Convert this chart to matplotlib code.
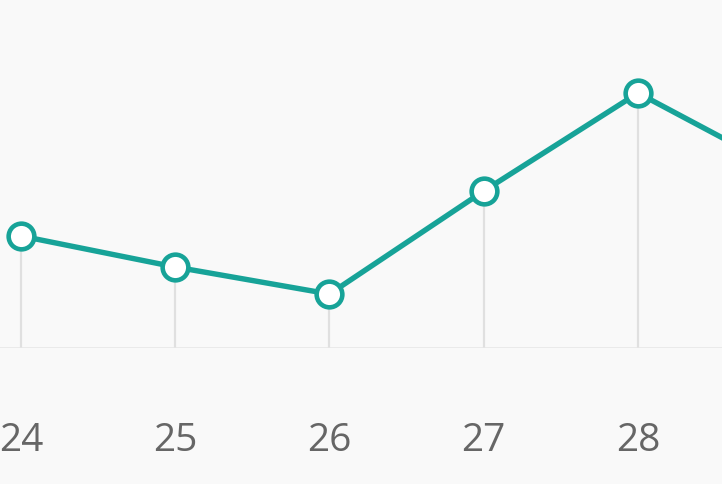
import matplotlib.pyplot as plt

days = [24, 25, 26, 27, 28, 29]
values = [112, 81, 54, 157, 255, 173]
tick_labels = ["24", "25", "26", "27", "28", "29"]

teal = "#17a398"
bg = "#f9f9f9"

fig = plt.figure(figsize=(7.22, 4.84), dpi=100, facecolor=bg)
ax = fig.add_axes([0, 136 / 484, 1, 348 / 484], facecolor=bg)

# drop lines from each point to the baseline
ax.vlines(days, 0, values, color="#e0e0e0", lw=1.6, zorder=1)
ax.axhline(0, color="#e6e6e6", lw=1.8, zorder=1)

ax.plot(days, values, color=teal, lw=3.9, marker="o", ms=18.5,
        mfc="white", mec=teal, mew=3.3, zorder=3, clip_on=False)

ax.set_xticks(days)
ax.set_xticklabels(tick_labels, fontsize=28, color="#666666", family="Open Sans")
ax.tick_params(axis="x", length=0, pad=53)
ax.set_yticks([])
# limits after ticks, otherwise set_xticks widens the view to 29
ax.set_xlim(24 - 21 / 154.25, 24 + 701 / 154.25)
ax.set_ylim(0, 348)
for s in ax.spines.values():
    s.set_visible(False)

fig.savefig("out.png", dpi=100, facecolor=bg)
